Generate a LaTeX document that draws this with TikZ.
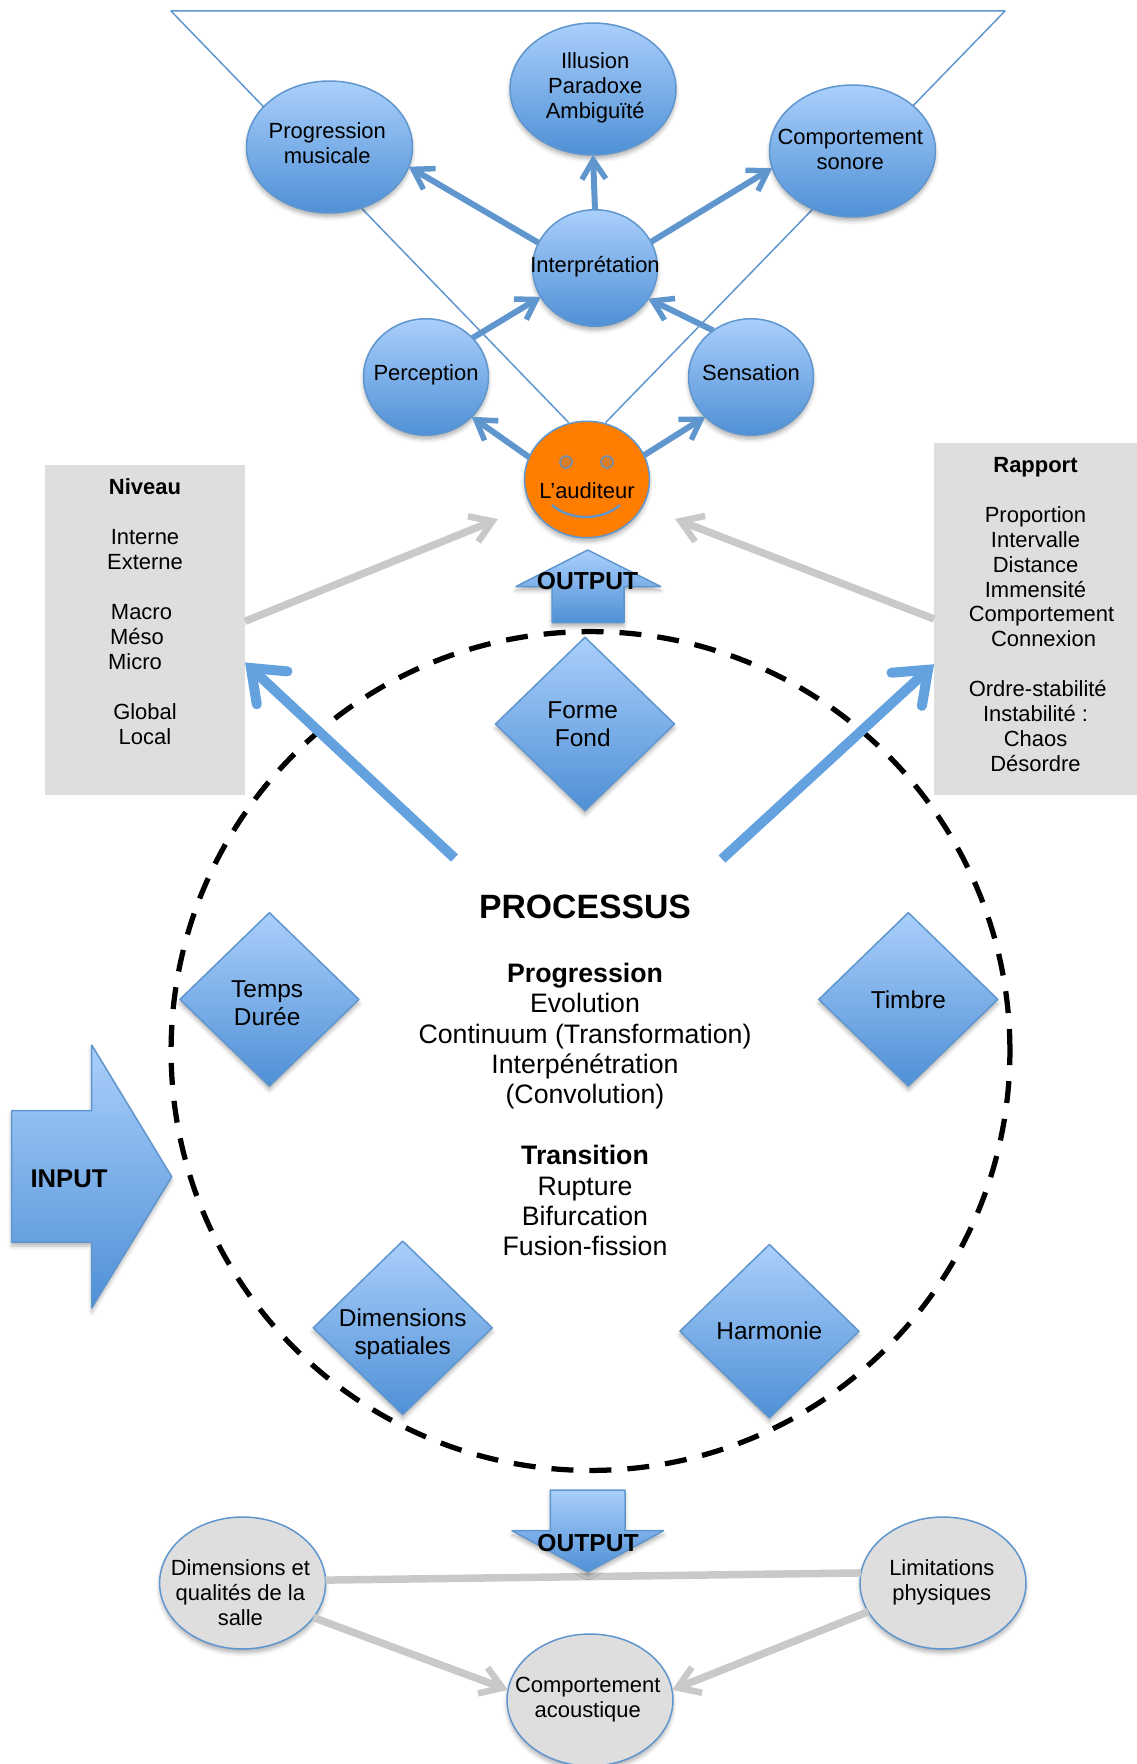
\documentclass[tikz,border=0pt]{standalone}
\usepackage{fontspec}
\setmainfont{Liberation Sans}
\usetikzlibrary{shapes.geometric}
\usetikzlibrary{arrows.meta}
\usetikzlibrary{shadows.blur}
\definecolor{blueline}{HTML}{5F96CE}
\definecolor{bigblue}{HTML}{64A1DF}
\definecolor{bluetop}{HTML}{AACFFB}
\definecolor{bluebot}{HTML}{4F90D6}
\definecolor{arrowgrey}{HTML}{C9C9C9}
\definecolor{greybox}{HTML}{DEDEDE}
\definecolor{orangeface}{HTML}{FF7D00}
\def\nudge{\hspace*{-0.09cm}}
\tikzset{
thinline/.style={line width=0.03cm,line join=round},
softshadow/.style={blur shadow={shadow xshift=0pt,shadow yshift=-0.08cm,shadow blur radius=0.08cm,shadow opacity=30}},
textup/.style={execute at end node={\rule[-#1]{0pt}{#1}}},
bubble/.style={ellipse,draw=blueline,thinline,top color=bluetop,bottom color=bluebot,softshadow,
	minimum width=3.32cm,minimum height=2.64cm,inner sep=-1.5cm,outer sep=0pt,align=center,
	font=\fontsize{12.5}{14.2}\selectfont},
smallbubble/.style={bubble,minimum width=2.5cm,minimum height=2.33cm},
greybubble/.style={bubble,top color=greybox,bottom color=greybox},
lozenge/.style={diamond,draw=blueline,thinline,top color=bluetop,bottom color=bluebot,softshadow,
	minimum width=3.58cm,minimum height=3.47cm,inner sep=-1.5cm,outer sep=0pt,align=center,
	font=\fontsize{13.9}{16}\selectfont},
blockarrow/.style={draw=blueline,thinline,top color=bluetop,bottom color=bluebot,softshadow},
blockword/.style={font=\bfseries\fontsize{14}{16}\selectfont},
greypanel/.style={fill=greybox,inner sep=0pt,outer sep=0pt},
paneltext/.style={align=center,font=\fontsize{12.5}{14.2}\selectfont},
bluearrow/.style={draw=blueline,line width=0.12cm,-{Straight Barb[length=0.38cm,width=0.48cm,line width=0.11cm]}},
bigarrow/.style={draw=bigblue,line width=0.2cm,-{Straight Barb[length=0.58cm,width=0.9cm,line width=0.2cm,line cap=round]}},
greyarrow/.style={draw=arrowgrey,line width=0.15cm,-{Straight Barb[length=0.42cm,width=0.55cm,line width=0.13cm]}},
greylink/.style={draw=arrowgrey,line width=0.15cm},
}

\begin{document}
\begin{tikzpicture}[x=0.02cm,y=-0.02cm]
\useasboundingbox (0,0) rectangle (1136,1764);

%The funnel behind the top bubbles
\coordinate (funnelL) at (171,11);
\coordinate (funnelR) at (1005,11);
\coordinate (apexL) at (568.6,422.5);
\coordinate (apexR) at (605.7,422.5);
\draw[draw=blueline,thinline] (apexL) -- (funnelL) -- (funnelR) -- (apexR);

%Place the bubbles
\node[bubble,textup=0.14cm] (prog) at (329.5,147) {\nudge Progression\\\nudge musicale};
\node[bubble,textup=0.125cm] (illu) at (593,89) {\hspace*{0.09cm}Illusion\\\hspace*{0.09cm}Paradoxe\\\hspace*{0.09cm}Ambiguïté};
\node[bubble,textup=0.08cm] (compson) at (852.5,151) {\nudge Comportement\\\nudge sonore};
\node[smallbubble,textup=0.125cm] (interp) at (595,268) {Interprétation};
\node[smallbubble,textup=0.175cm] (percep) at (426,377) {Perception};
\node[smallbubble,textup=0.18cm] (sens) at (751,377) {Sensation};
\node[smallbubble,top color=orangeface,bottom color=orangeface] (aud) at (587,479.5) {\rule{0pt}{0.78cm}L’auditeur};

%The face
\node[circle,draw=blueline!70!gray,fill=orangeface!70!gray,line width=0.03cm,minimum size=0.24cm,inner sep=0pt] (eyeL) at (566,462) {};
\node[circle,draw=blueline!70!gray,fill=orangeface!70!gray,line width=0.03cm,minimum size=0.24cm,inner sep=0pt] (eyeR) at (607,462) {};
\coordinate (smileL) at (552,505);
\coordinate (smileR) at (620,505);
\draw[draw=blueline,line width=0.045cm] (smileL) .. controls (570,521) and (602,521) .. (smileR);

%
\draw[bluearrow] (interp.156.7) -- (prog.-14);
\draw[bluearrow] (interp.90) -- (illu.-90);
\draw[bluearrow] (interp.25.7) -- (compson.-168);
\draw[bluearrow] (percep.40.6) -- (interp.208.5);
\draw[bluearrow] (sens.129.6) -- (interp.-30.5);
\draw[bluearrow] (aud.159.4) -- (percep.-41.3);
\draw[bluearrow] (aud.23) -- (sens.-139.5);

%The grey panels
\node[greypanel,minimum width=4cm,minimum height=6.59cm] (niveau) at (145,630) {};
\node[greypanel,minimum width=4.06cm,minimum height=7.04cm] (rapport) at (1035.5,619) {};
\node[paneltext] (niveautxt) at (145,611.5) {\textbf{Niveau}\\[14.2pt]Interne\\Externe\\[14.2pt]\hspace*{-0.14cm}Macro\\\hspace*{-0.32cm}Méso\\\hspace*{-0.4cm}Micro\\[14.2pt]Global\\Local};
\node[paneltext] (rapporttxt) at (1035.5,614.5) {\textbf{Rapport}\\[14.2pt]Proportion\\Intervalle\\Distance\\Immensité\\\hspace*{0.24cm}Comportement\\\hspace*{0.32cm}Connexion\\[14.2pt]\hspace*{0.09cm}Ordre-stabilité\\Instabilité :\\Chaos\\Désordre};

\coordinate (audL) at (498,519);
\coordinate (audR) at (675,519);
\draw[greyarrow] (niveau.5) -- (audL);
\draw[greyarrow] (rapport.west) -- (audR);

%The upper output
\path[blockarrow] (552,622.5) -- (552,586.5) -- (516,586.5) -- (587.7,550) -- (660.7,586.5) -- (624,586.5) -- (624,622.5) -- cycle;
\node[blockword] (outtop) at (587.5,581.5) {OUTPUT};

%The circle and what is in it
\node[circle,draw=black,line width=0.105cm,dash pattern=on 0.44cm off 0.32cm,minimum size=16.78cm,inner sep=0pt] (cercle) at (590.5,1051) {};

\node[lozenge] (forme) at (585,724) {\nudge Forme\\\nudge Fond};
\node[lozenge] (temps) at (269.4,999.4) {\rule{0pt}{0.49cm}\nudge Temps\\\nudge Durée};
\node[lozenge] (timbre) at (908.3,999.4) {Timbre};
\node[lozenge] (dimspat) at (402.7,1327.8) {\rule{0pt}{0.6cm}Dimensions\\spatiales};
\node[lozenge] (harm) at (769.4,1331.2) {Harmonie};

\node[font=\bfseries\fontsize{19.2}{22}\selectfont] (titre) at (585,907) {PROCESSUS};
\node[align=center,font=\fontsize{15.2}{17.3}\selectfont] (processus) at (585,1109.5) {\textbf{Progression}\\Evolution\\Continuum (Transformation)\\Interpénétration\\(Convolution)\\[17.3pt]\textbf{Transition}\\Rupture\\Bifurcation\\Fusion-fission};

\coordinate (procL) at (454.5,858);
\coordinate (procR) at (722,859);
\draw[bigarrow] (procL) -- (niveau.-18);
\draw[bigarrow] (procR) -- (rapport.204);

%The input
\path[blockarrow] (11.7,1110.7) -- (91.7,1110.7) -- (91.7,1045) -- (171.7,1176.7) -- (91.7,1308) -- (91.7,1242) -- (11.7,1242) -- cycle;
\node[blockword,font=\bfseries\fontsize{14.6}{16}\selectfont] (input) at (69,1178.5) {INPUT};

%The bottom
\node[greybubble] (salle) at (242.6,1583) {\rule{0pt}{0.7cm}\nudge Dimensions et\\\nudge qualités de la\\\nudge salle};
\node[greybubble,textup=0.125cm] (limit) at (943,1583) {\hspace*{-0.05cm}Limitations\\\hspace*{-0.05cm}physiques};
\node[greybubble] (compac) at (590,1700) {\nudge Comportement\\\nudge acoustique};

\draw[greylink] (salle.2) -- (limit.173);
\draw[greyarrow] (salle.-26.4) -- (compac.173);
\draw[greyarrow] (limit.201) -- (compac.7);

\path[blockarrow] (550.4,1490) -- (625,1490) -- (625,1530.7) -- (663.5,1530.7) -- (587.8,1572) -- (512,1530.7) -- (550.4,1530.7) -- cycle;
\node[blockword] (outbot) at (588,1542.7) {OUTPUT};

\end{tikzpicture}
\end{document}
